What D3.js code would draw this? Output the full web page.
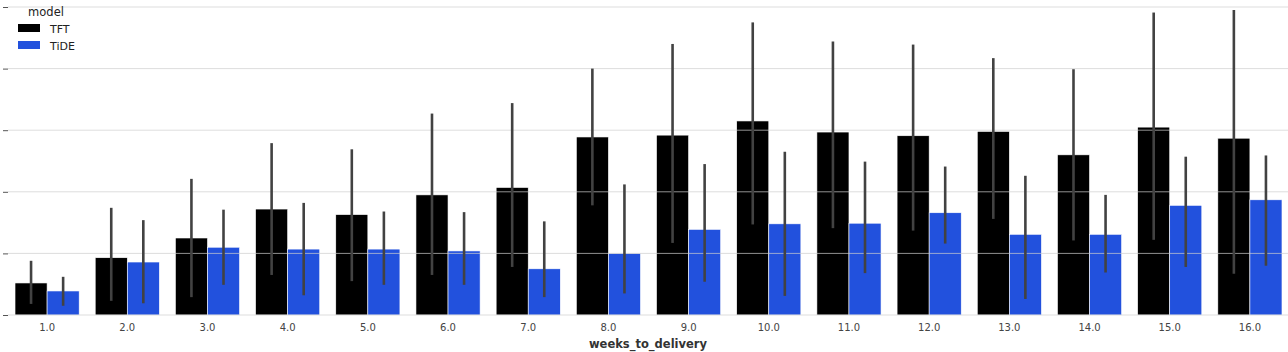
<!DOCTYPE html>
<html>
<head>
<meta charset="utf-8">
<script src="https://cdn.jsdelivr.net/npm/d3@7"></script>
<style>
  body { margin: 0; background: #fff; }
  svg { display: block; font-family: "DejaVu Sans", sans-serif; }
</style>
</head>
<body>
<svg id="chart" width="1288" height="352"></svg>
<script>
// weeks_to_delivery categories
var weeks = ["1.0","2.0","3.0","4.0","5.0","6.0","7.0","8.0","9.0","10.0","11.0","12.0","13.0","14.0","15.0","16.0"];
var models = ["TFT", "TiDE"];

// mean values (arbitrary units, y labels are cut off)
var tftMean  = [0.52, 0.93, 1.25, 1.72, 1.63, 1.95, 2.07, 2.89, 2.92, 3.15, 2.97, 2.91, 2.98, 2.60, 3.05, 2.87];
var tideMean = [0.39, 0.86, 1.10, 1.07, 1.07, 1.04, 0.75, 1.00, 1.39, 1.48, 1.49, 1.66, 1.31, 1.31, 1.78, 1.87];
// confidence interval ends
var tftLow   = [0.18, 0.23, 0.29, 0.65, 0.55, 0.65, 0.78, 1.78, 1.17, 1.47, 1.41, 1.37, 1.56, 1.21, 1.22, 0.67];
var tftHigh  = [0.88, 1.74, 2.21, 2.79, 2.69, 3.27, 3.44, 4.00, 4.40, 4.75, 4.44, 4.39, 4.17, 3.99, 4.91, 4.95];
var tideLow  = [0.15, 0.19, 0.49, 0.32, 0.49, 0.49, 0.29, 0.35, 0.54, 0.31, 0.68, 1.16, 0.26, 0.69, 0.78, 0.80];
var tideHigh = [0.62, 1.54, 1.71, 1.82, 1.68, 1.67, 1.52, 2.12, 2.45, 2.65, 2.49, 2.41, 2.26, 1.95, 2.57, 2.59];
var yTicks = [0, 1, 2, 3, 4, 5];

var colors = {"TFT": "#000000", "TiDE": "#2251dd"};

var svg = d3.select("#chart");

var x = d3.scaleBand().domain(weeks).range([7, 1290]).padding(0);
var inner = d3.scaleBand().domain(models)
    .range([0, x.bandwidth() * 0.8]);
var y = d3.scaleLinear().domain([0, 5]).range([315, 7]);

// build rows from the arrays
var rows = [];
weeks.forEach(function(w, i){
    rows.push({week: w, model: "TFT", mean: tftMean[i], lo: tftLow[i], hi: tftHigh[i]});
    rows.push({week: w, model: "TiDE", mean: tideMean[i], lo: tideLow[i], hi: tideHigh[i]});
});
var off = x.bandwidth() * 0.1;

// bars
svg.append("g").selectAll("rect")
    .data(rows)
    .enter().append("rect")
    .attr("x", function(d){ return x(d.week) + off + inner(d.model); })
    .attr("y", function(d){ return y(d.mean); })
    .attr("width", inner.bandwidth())
    .attr("height", function(d){ return y(0) - y(d.mean); })
    .attr("fill", function(d){ return colors[d.model]; })
    .attr("stroke", "#ffffff")
    .attr("stroke-width", 0.6);

// y axis, ticks without visible labels, grid drawn over the bars
var yAxis = svg.append("g")
    .attr("transform", "translate(8,0)")
    .call(d3.axisLeft(y).tickValues(yTicks).tickSize(5).tickFormat(""));
yAxis.select(".domain").remove();
yAxis.selectAll(".tick line").attr("stroke", "#555").attr("stroke-width", 1);

svg.append("g").selectAll("line")
    .data(yTicks)
    .enter().append("line")
    .attr("x1", 8).attr("x2", 1288)
    .attr("y1", function(d){ return y(d); })
    .attr("y2", function(d){ return y(d); })
    .attr("stroke", "#cfcfcf")
    .attr("stroke-opacity", 0.7)
    .attr("stroke-width", 1);

// error bars
svg.append("g").selectAll("line")
    .data(rows)
    .enter().append("line")
    .attr("x1", function(d){ return x(d.week) + off + inner(d.model) + inner.bandwidth() / 2; })
    .attr("x2", function(d){ return x(d.week) + off + inner(d.model) + inner.bandwidth() / 2; })
    .attr("y1", function(d){ return y(d.lo); })
    .attr("y2", function(d){ return y(d.hi); })
    .attr("stroke", "#424242")
    .attr("stroke-width", 2.6);

// x axis labels
var xAxis = svg.append("g")
    .attr("transform", "translate(0,315)")
    .call(d3.axisBottom(x).tickSize(0).tickPadding(9));
xAxis.select(".domain").remove();
xAxis.selectAll("text")
    .attr("font-size", "10px")
    .attr("fill", "#444")
    .style("font-family", "DejaVu Sans, sans-serif");

svg.append("text")
    .attr("x", 648).attr("y", 348)
    .attr("text-anchor", "middle")
    .attr("font-size", "11.5px")
    .attr("font-weight", "bold")
    .attr("fill", "#333")
    .text("weeks_to_delivery");

// legend
var legend = svg.append("g");
legend.append("text")
    .attr("x", 46).attr("y", 16)
    .attr("text-anchor", "middle")
    .attr("font-size", "11.5px")
    .attr("fill", "#222")
    .text("model");
legend.selectAll("rect")
    .data(models)
    .enter().append("rect")
    .attr("x", 18)
    .attr("y", function(d, i){ return 24 + i * 17; })
    .attr("width", 22).attr("height", 8)
    .attr("fill", function(d){ return colors[d]; });
legend.selectAll("text.lab")
    .data(models)
    .enter().append("text")
    .attr("class", "lab")
    .attr("x", 50)
    .attr("y", function(d, i){ return 33 + i * 17; })
    .attr("font-size", "11px")
    .attr("fill", "#222")
    .text(function(d){ return d; });
</script>
</body>
</html>
